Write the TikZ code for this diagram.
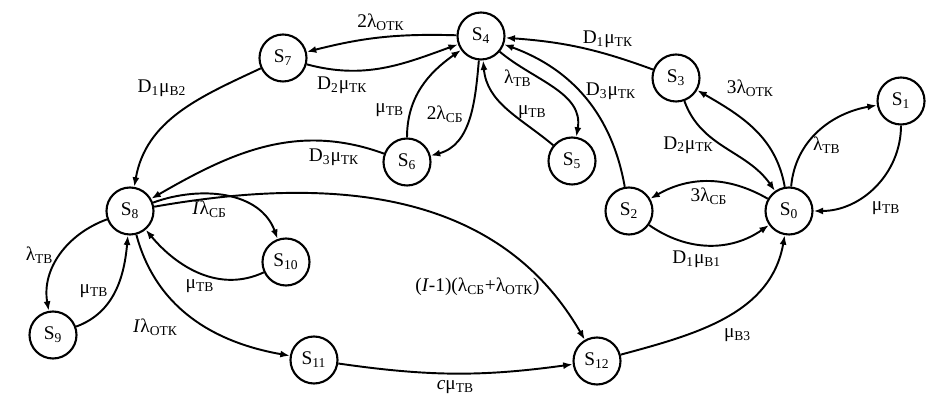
\documentclass[tikz,border=0pt]{standalone}
\usepackage{fontspec}
\setmainfont{Liberation Serif}
\usetikzlibrary{arrows.meta}
\newcommand{\idx}[1]{\textsubscript{#1}}

\begin{document}
\begin{tikzpicture}[font=\fontsize{11}{13}\selectfont,
                    state/.style={circle, draw, line width=1.2pt, minimum size=9.4mm, inner sep=0pt},
                    tr/.style={->, line width=1.1pt},
                    >={Latex[length=1.9mm,width=1.4mm]}]
         \useasboundingbox (0,0) rectangle (18.86,8.18);
         \node[state](S4)  at (9.62,7.46)  {S\idx{4}};
         \node[state](S7)  at (5.66,7.02)  {S\idx{7}};
         \node[state](S3)  at (13.52,6.62) {S\idx{3}};
         \node[state](S1)  at (18.02,6.16) {S\idx{1}};
         \node[state](S0)  at (15.78,3.96) {S\idx{0}};
         \node[state](S2)  at (12.58,3.96) {S\idx{2}};
         \node[state](S5)  at (11.44,4.96) {S\idx{5}};
         \node[state](S6)  at (8.14,4.94)  {S\idx{6}};
         \node[state](S8)  at (2.60,3.96)  {S\idx{8}};
         \node[state](S9)  at (1.06,1.48)  {S\idx{9}};
         \node[state](S10) at (5.72,2.94)  {S\idx{10}};
         \node[state](S11) at (6.28,0.98)  {S\idx{11}};
         \node[state](S12) at (11.94,0.96) {S\idx{12}};
         % upper part
         \draw[tr](S4) to[bend right=8] node[above] {2λ\idx{ОТК}} (S7);
         \draw[tr](S7) to[out=-15,in=200] node[below, pos=0.22] {D\idx{2}μ\idx{ТК}} (S4);
         \draw[tr](S7) to[out=205,in=80] node[above left, pos=0.4] {D\idx{1}μ\idx{В2}} (S8);
         \draw[tr](S6) to[out=90,in=215] node[left, pos=0.25] {μ\idx{ТВ}} (S4);
         \draw[tr](S4) to[out=265,in=15] node[left, pos=0.45] {2λ\idx{СБ}} (S6);
         \draw[tr](S4) to[out=-40,in=80] node[left, pos=0.35] {λ\idx{ТВ}} (S5);
         \draw[tr](S5) to[out=140,in=-85] node[right, pos=0.45] {μ\idx{ТВ}} (S4);
         \draw[tr](S3) to[bend right=8] node[above, pos=0.3] {D\idx{1}μ\idx{ТК}} (S4);
         \draw[tr](S2) to[out=100,in=-20] node[right, pos=0.55] {D\idx{3}μ\idx{ТК}} (S4);
         % right part
         \draw[tr](S0) to[out=100,in=-30] node[above right, pos=0.82] {3λ\idx{ОТК}} (S3);
         \draw[tr](S3) to[out=-70,in=125] node[left, pos=0.45] {D\idx{2}μ\idx{ТК}} (S0);
         \draw[tr](S0) to[out=85,in=190] node[right, pos=0.35] {λ\idx{ТВ}} (S1);
         \draw[tr](S1) to[out=-90,in=0] node[below right, pos=0.6] {μ\idx{ТВ}} (S0);
         \draw[tr](S0) to[bend right=30] node[below] {3λ\idx{СБ}} (S2);
         \draw[tr](S2) to[bend right=35] node[below, pos=0.4] {D\idx{1}μ\idx{В1}} (S0);
         \draw[tr](S12) to[out=15,in=-100] node[below right, pos=0.45] {μ\idx{В3}} (S0);
         % lower part
         \draw[tr](S11) to[bend right=8] node[below] {\textit{c}μ\idx{ТВ}} (S12);
         \draw[tr](S8) to[out=10,in=120] node[left, pos=0.87] {(\textit{I}-1)(λ\idx{СБ}+λ\idx{ОТК})} (S12);
         \draw[tr](S6) to[out=160,in=30] node[below, pos=0.2] {D\idx{3}μ\idx{ТК}} (S8);
         % left part
         \draw[tr](S8) to[out=20,in=110] node[below, pos=0.38] {\textit{I}λ\idx{СБ}} (S10);
         \draw[tr](S10) to[out=205,in=-50] node[below] {μ\idx{ТВ}} (S8);
         \draw[tr](S8) to[out=200,in=100] node[left] {λ\idx{ТВ}} (S9);
         \draw[tr](S9) to[out=20,in=-95] node[left] {μ\idx{ТВ}} (S8);
         \draw[tr](S8) to[out=-75,in=170] node[below left, pos=0.45] {\textit{I}λ\idx{ОТК}} (S11);
     \end{tikzpicture}
\end{document}
